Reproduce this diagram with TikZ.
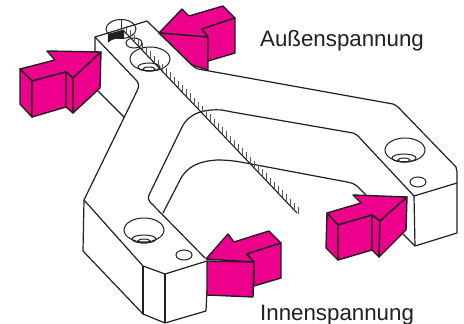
\documentclass[tikz,border=0pt]{standalone}
\usepackage{fontspec}
\setmainfont{Liberation Sans}
\definecolor{pinkface}{HTML}{EC008C}
\definecolor{inkline}{HTML}{231F20}
\tikzset{
  edgeline/.style={draw=inkline,line width=1.2pt,line join=round},
  face/.style={fill=pinkface,draw=inkline,line width=1.4pt,line join=round},
  thinline/.style={draw=inkline,line width=1pt},
  hatchline/.style={draw=inkline,line width=1.1pt},
  tickline/.style={draw=inkline!75,line width=.6pt},
  label/.style={anchor=base west,inner sep=0pt,text=inkline,font=\fontsize{22.3}{26}\selectfont}
}
\begin{document}
\begin{tikzpicture}[x=1pt,y=-1pt]
\useasboundingbox (0,0) rectangle (464,324);
% block outline
\draw[edgeline] (95,55) -- (95,37) -- (147,21) -- (192,65) .. controls (194,67) and (195,68) .. (198,69) -- (393,104) .. controls (395,105) and (397,106) .. (398,107) -- (456,167) .. controls (457,169) and (457,170) .. (457,172) -- (457,233) -- (415,246) -- (403,234);
\draw[edgeline] (95,37) -- (137,81) .. controls (139,84) and (139,87) .. (137,91) -- (84,200) -- (83,251) -- (143,314) -- (165,323) -- (206,311) -- (207,290);
\draw[edgeline] (84,200) -- (143,266) -- (165,274) -- (207,261);
\draw[edgeline] (143,266) -- (143,314);
\draw[edgeline] (165,274) -- (165,323);
\draw[edgeline] (98,91) -- (124,117);
% inner contours
\draw[edgeline] (205,258) -- (150,202) .. controls (148,200) and (148,198) .. (149,195) -- (182,127) .. controls (190,112) and (205,109) .. (222,110) .. controls (226,111) and (228,111) .. (232,112) -- (353,133) .. controls (355,134) and (357,135) .. (358,136) -- (414,196) -- (415,246);
\draw[edgeline] (414,196) -- (457,183);
\draw[edgeline] (163,213) -- (180,180) .. controls (187,166) and (200,161) .. (217,160) .. controls (235,160) and (245,163) .. (262,166) -- (347,182) .. controls (352,183) and (355,184) .. (357,186) -- (366,195);
% holes
\draw[thinline] (121,29) ellipse [x radius=15,y radius=9.5];
\fill[inkline] (108,33.9) -- (124,29.5) -- (124,38.3) arc [start angle=-78,end angle=-150,x radius=15,y radius=9.5] -- cycle;
\draw[thinline] (121,20) -- (121,29);
\draw[thinline] (134,43) ellipse [x radius=8,y radius=5];
\draw[thinline] (150,59) ellipse [x radius=20,y radius=12];
\draw[thinline] (149,67) ellipse [x radius=11,y radius=4];
\draw[thinline] (149,69) ellipse [x radius=6,y radius=2];
\draw[thinline] (144,230) ellipse [x radius=20,y radius=12];
\draw[thinline] (144,239) ellipse [x radius=12,y radius=4];
\draw[thinline] (144,241) ellipse [x radius=6,y radius=2];
\draw[thinline] (184,255) ellipse [x radius=8,y radius=5];
\draw[thinline] (405,150) ellipse [x radius=20,y radius=12];
\draw[thinline] (404,158) ellipse [x radius=12,y radius=4];
\draw[thinline] (404,160) ellipse [x radius=6,y radius=2];
\draw[thinline] (418,182) ellipse [x radius=8,y radius=5];
% hatched line
\draw[hatchline] (124,31) -- (297,213);
\foreach \i in {0,...,43}{
  \pgfmathsetmacro{\xx}{126+4*\i}
  \pgfmathsetmacro{\yy}{31+(\xx-124)*1.052}
  \draw[tickline] (\xx,\yy) -- (\xx,\yy-7);
}
% left arrow
\draw[face] (20,69) -- (55,60) -- (47,51) -- (101,52) -- (73,78) -- (66,72) -- (32,81) -- cycle;
\draw[face] (20,69) -- (32,81) -- (32,117) -- (20,104) -- cycle;
\draw[face] (32,81) -- (66,72) -- (66,107) -- (32,117) -- cycle;
\draw[face] (66,72) -- (73,78) -- (73,113) -- (66,107) -- cycle;
\draw[face] (73,78) -- (101,52) -- (100,88) -- (73,113) -- cycle;
% top arrow
\draw[face] (159,33) -- (182,9) -- (189,16) -- (223,6) -- (235,18) -- (202,29) -- (208,37) -- cycle;
\draw[face] (159,33) -- (208,37) -- (208,70) -- (192,65) -- cycle;
\draw[face] (202,29) -- (235,18) -- (235,53) -- (208,61) -- (208,37) -- cycle;
% bottom arrow
\draw[face] (206,259) -- (228,234) -- (234,242) -- (269,231) -- (281,243) -- (247,254) -- (254,262) -- cycle;
\draw[face] (207,261) -- (254,262) -- (253,297) -- (207,295) -- cycle;
\draw[face] (247,254) -- (281,243) -- (281,278) -- (254,286) -- (254,262) -- cycle;
% right arrow
\draw[face] (327,213) -- (361,203) -- (353,195) -- (407,197) -- (380,221) -- (372,215) -- (338,225) -- cycle;
\draw[face] (327,213) -- (338,225) -- (338,260) -- (326,248) -- cycle;
\draw[face] (338,225) -- (372,215) -- (372,250) -- (338,260) -- cycle;
\draw[face] (372,215) -- (380,221) -- (379,257) -- (372,250) -- cycle;
\draw[face] (380,221) -- (407,197) -- (406,230) -- (379,257) -- cycle;
% labels
\node[label] (aussen) at (260,46) {Außenspannung};
\node[label] (innen) at (260,320) {Innenspannung};
\end{tikzpicture}
\end{document}
